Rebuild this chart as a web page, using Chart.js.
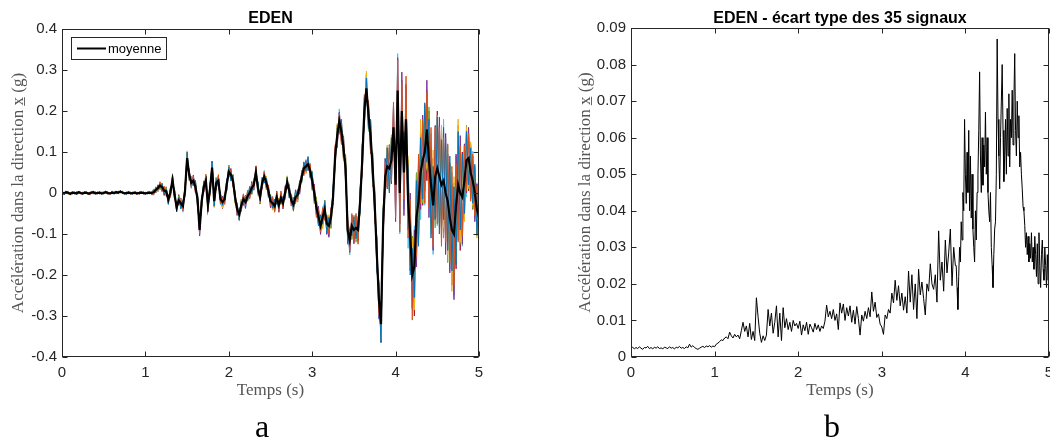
<!DOCTYPE html>
<html>
<head>
<meta charset="utf-8">
<script src="https://cdn.jsdelivr.net/npm/chart.js@4.4.0/dist/chart.umd.min.js"></script>
<style>
    html, body { margin: 0; padding: 0; background: #fff; }
    #wrap { position: relative; width: 1050px; height: 442px; overflow: hidden; }
    .panel { position: absolute; top: 0; width: 525px; height: 442px; }
</style>
</head>
<body>
<div id="wrap">
    <div class="panel" style="left:0"><canvas id="chart-a" width="525" height="442"></canvas></div>
    <div class="panel" style="left:525px"><canvas id="chart-b" width="525" height="442"></canvas></div>
</div>
<script>
// --- data ---
const xTicks = [0, 1, 2, 3, 4, 5];
const yTicksA = [-0.4, -0.3, -0.2, -0.1, 0, 0.1, 0.2, 0.3, 0.4];
const yTicksB = [0, 0.01, 0.02, 0.03, 0.04, 0.05, 0.06, 0.07, 0.08, 0.09];

// mean signal (g), one value every 0.025 s from 0 to 5 s
const dtMean = 0.025;
const moyenne = [
    0.001, -0.001, 0.002, 0, -0.002, 0.001, 0, -0.001, 0.002, 0, -0.001, 0.001, 0, -0.002, 0.001, 0.002, -0.001, 0, 0.001, -0.001,
    0, 0.002, 0, -0.001, 0.001, 0, 0.002, 0.001, 0.003, 0.001, -0.001, 0, 0.001, -0.001, 0, 0.001, -0.001, 0, 0.001, 0,
    -0.001, 0, 0.001, 0, 0.002, 0.008, 0.012, 0.018, 0.014, 0.006, 0.004, -0.016, 0.002, 0.032, -0.005, -0.035, -0.018, -0.025, -0.032, 0.005,
    0.085, 0.045, 0.025, 0.030, 0.015, -0.015, -0.090, -0.020, 0.015, 0.030, -0.030, 0.010, 0.062, -0.020, 0.025, 0.030, -0.015, -0.022, -0.015, 0.020,
    0.052, 0.045, 0.030, -0.010, -0.040, -0.052, -0.030, -0.015, -0.022, -0.008, 0, 0.012, 0.020, 0.050, 0.010, -0.010, 0.025, 0.040, 0.025, 0.005,
    -0.020, -0.025, -0.032, -0.010, -0.030, -0.012, -0.025, 0, 0.026, 0.005, -0.018, -0.028, -0.010, -0.005, 0.015, 0.040, 0.060, 0.065, 0.070, 0.055,
    0.030, 0, -0.035, -0.058, -0.080, -0.060, -0.040, -0.075, -0.080, -0.060, -0.010, 0.090, 0.140, 0.175, 0.150, 0.110, 0.060, -0.090, -0.115, -0.080,
    -0.090, -0.085, -0.090, -0.020, 0.080, 0.200, 0.255, 0.190, 0.140, 0.060, -0.030, -0.150, -0.260, -0.320, -0.080, 0.040, 0.065, 0.060, 0.080, 0.160,
    0.020, 0.250, 0, 0.200, 0.050, 0.180, -0.020, -0.100, -0.200, -0.180, -0.060, -0.020, 0.050, 0.080, 0.100, 0.155, 0.080, 0.020, -0.030, 0.040,
    0.060, 0.040, 0.020, 0.030, 0, -0.020, -0.060, -0.090, -0.100, -0.030, 0.020, 0, -0.010, 0.030, 0.080, 0.085, 0.050, 0.030, 0, -0.040,
    -0.060
];

// spread of individual signals around the mean (milli-g), same time grid
const ecart1 = [
    2, -3, 1, 4, -2, 0, 3, -4, 1, 2, -1, 3, -3, 2, 0, -2, 4, -1, 2, -3,
    1, 3, -2, 0, 4, -3, 2, -1, 3, -2, 1, -4, 2, 0, -3, 3, -1, 2, -2, 4,
    -1, 2, -3, 3, 5, -6, 8, -4, 10, -9, 6, -12, 9, -7, 11, -10, 8, -14, 12, -9,
    15, -11, 9, -13, 16, -18, 12, -10, 14, -15, 11, -9, 16, -12, 10, -14, 13, -8, 11, -15,
    12, -16, 14, -10, 17, -13, 9, -15, 12, -11, 16, -14, 10, -12, 18, -9, 13, -16, 11, -14,
    15, -12, 17, -18, 10, -14, 16, -11, 13, -17, 12, -15, 18, -10, 14, -13, 16, -12, 19, -15,
    20, -18, 14, -22, 25, -16, 19, -24, 21, -17, 26, -20, 18, -28, 30, -22, 25, -35, 28, -24,
    32, -27, 22, -30, 35, -38, 25, -33, 40, -28, 30, -42, 36, -45, 38, -30, 45, -60, 55, -48,
    70, -85, 60, -90, 95, -70, 80, -100, 65, -75, 90, -110, 85, -95, 120, -80, 100, -130, 95, -105,
    125, -140, 110, -95, 135, -120, 150, -100, 115, -145, 130, -90, 105, -80, 70, -65, 60, -55, 70, -60,
    50
];
const ecart2 = [
    -2, 1, 3, -1, -3, 2, 0, 4, -2, -1, 3, 0, -2, 4, -3, 1, -1, 3, -4, 2,
    0, -2, 3, -3, 1, 2, -4, 3, 0, -1, 2, -3, 4, -2, 1, -1, 3, -4, 2, 0,
    3, -2, 1, -4, -6, 7, -5, 9, -8, 11, -7, 10, -13, 8, -9, 12, -11, 9, -10, 14,
    -12, 13, -10, 11, -15, 14, -9, 13, -12, 16, -10, 12, -14, 9, -11, 15, -12, 10, -13, 12,
    -14, 11, -13, 15, -12, 10, -16, 13, -9, 14, -15, 12, -11, 16, -13, 10, -14, 12, -17, 13,
    -11, 16, -15, 12, -13, 17, -10, 14, -16, 12, -14, 11, -17, 15, -12, 16, -18, 13, -14, 17,
    -22, 17, -25, 19, -15, 23, -27, 18, -20, 24, -19, 28, -23, 20, -32, 26, -21, 34, -27, 30,
    -28, 33, -35, 27, -31, 40, -29, 36, -42, 32, -38, 44, -33, 40, -47, 36, -52, 58, -50, 62,
    -80, 75, -95, 70, -65, 105, -90, 85, -110, 70, -95, 115, -75, 100, -125, 90, -115, 140, -100, 120,
    -135, 120, -150, 105, -120, 140, -110, 155, -125, 100, -140, 115, -95, 85, -75, 60, -70, 65, -55, 58,
    -45
];
const ecart3 = [
    1, 2, -2, -3, 3, 1, -2, 2, -4, 1, 2, -2, 1, -3, 3, 2, -2, 0, 3, -1,
    -3, 2, 1, -2, -1, 3, -3, 4, -2, 2, -3, 1, -1, 3, -2, -3, 4, -2, 1, -2,
    2, -3, 4, -2, 7, -5, -8, 10, -6, 7, -11, 12, -8, 10, -12, 9, -13, 11, -9, 12,
    18, -14, 13, -9, 12, -16, 10, -12, 15, -11, 13, -16, 11, -13, 14, -10, 12, -15, 16, -11,
    15, -12, 11, -17, 13, -10, 14, -16, 11, -13, 12, -15, 17, -10, 11, -15, 14, -12, 16, -10,
    13, -17, 12, -16, 18, -11, 15, -12, 16, -14, 10, -17, 13, -15, 16, -12, 11, -18, 15, -13,
    18, -24, 20, -17, 23, -28, 16, -21, 27, -19, 22, -26, 30, -18, 24, -31, 28, -25, 33, -29,
    36, -30, 28, -36, 31, -34, 42, -27, 35, -40, 38, -33, 45, -40, 35, -48, 52, -45, 60, -55,
    85, -70, 100, -80, 75, -95, 110, -85, 90, -105, 75, -95, 130, -80, 105, -95, 85, -120, 135, -95,
    110, -125, 145, -115, 100, -130, 120, -150, 140, -110, 160, -120, 90, -100, 80, -70, 75, -60, 65, -70,
    60
];
const ecart4 = [
    -1, 3, -2, 2, 1, -3, 2, -1, 3, -2, -3, 1, 3, -1, 2, -4, 1, 2, -2, 3,
    2, -1, -3, 2, -2, 1, 3, -3, 2, 1, -2, 3, -3, 1, 2, -2, -3, 3, 1, -1,
    -2, 3, 2, -4, -5, 6, -9, 7, -10, 8, -12, 9, -11, 13, -8, 10, -12, 13, -11, 8,
    -14, 12, -11, 14, -13, 10, -15, 11, -13, 9, -16, 14, -10, 13, -15, 11, -9, 14, -12, 13,
    -10, 15, -13, 12, -14, 16, -11, 12, -15, 10, -13, 16, -12, 14, -10, 17, -15, 11, -12, 15,
    -16, 13, -11, 15, -17, 12, -14, 18, -10, 15, -13, 17, -12, 14, -18, 11, -15, 14, -16, 12,
    -19, 22, -17, 26, -21, 18, -24, 20, -28, 23, -18, 25, -30, 22, -26, 29, -33, 24, -30, 26,
    -34, 29, -26, 33, -38, 30, -35, 28, -44, 37, -32, 40, -46, 35, -40, 44, -55, 50, -58, 52,
    -90, 80, -75, 95, -105, 85, -70, 100, -80, 90, -120, 100, -90, 110, -95, 120, -140, 90, -110, 125,
    -120, 145, -105, 130, -150, 115, -135, 110, -160, 125, -100, 140, -115, 90, -80, 75, -65, 60, -70, 62,
    -55
];
const ecart5 = [
    3, -1, -2, 1, 2, -3, 1, 3, -2, -1, 2, -3, 1, 2, -1, 3, -2, 1, -3, 2,
    -2, 1, 3, -1, -3, 2, -1, 2, -3, 4, -1, -2, 3, -1, 2, -3, 2, -1, 3, -2,
    1, -2, -1, 2, 8, -7, 6, -10, 9, -8, 10, -9, 12, -10, 13, -8, 11, -12, 10, -13,
    13, -15, 12, -10, 13, -14, 16, -12, 11, -14, 12, -11, 13, -15, 12, -10, 16, -13, 14, -12,
    11, -13, 16, -14, 10, -12, 15, -13, 14, -11, 12, -16, 13, -11, 15, -12, 10, -14, 13, -16,
    17, -13, 14, -12, 15, -16, 11, -17, 14, -12, 16, -11, 14, -16, 13, -15, 12, -14, 17, -11,
    24, -20, 26, -19, 21, -25, 22, -18, 24, -27, 20, -23, 26, -32, 22, -28, 34, -26, 30, -34,
    30, -35, 33, -28, 40, -32, 38, -40, 30, -37, 44, -38, 40, -35, 50, -42, 48, -55, 62, -50,
    95, -75, 85, -105, 70, -90, 100, -75, 95, -85, 110, -90, 80, -105, 115, -100, 130, -110, 100, -125,
    130, -115, 120, -140, 110, -150, 135, -105, 125, -130, 145, -125, 100, -90, 85, -75, 70, -68, 62, -58,
    52
];
const ecart6 = [
    -3, 2, -1, -2, 3, 1, -3, 1, 2, -2, 1, 3, -1, -3, 2, -1, 3, -2, 1, -2,
    3, -2, 1, 2, -3, -1, 3, -2, -1, 3, -3, 2, 1, -2, 3, -1, 2, -3, -1, 2,
    -2, 1, 3, -3, -7, 5, -7, 8, -11, 9, -10, 8, -14, 11, -10, 13, -9, 10, -15, 11,
    -16, 10, -14, 12, -11, 15, -12, 14, -10, 12, -14, 10, -15, 13, -12, 11, -14, 12, -10, 16,
    -13, 12, -15, 11, -16, 14, -12, 10, -17, 15, -11, 13, -14, 12, -16, 11, -12, 15, -13, 11,
    -14, 17, -13, 11, -16, 15, -12, 13, -15, 18, -11, 16, -14, 12, -15, 14, -10, 17, -13, 16,
    -24, 19, -21, 23, -18, 27, -20, 22, -25, 18, -28, 21, -24, 30, -20, 33, -28, 22, -36, 27,
    -30, 36, -32, 38, -28, 35, -42, 31, -36, 41, -34, 38, -48, 42, -38, 45, -50, 58, -52, 55,
    -75, 90, -100, 75, -90, 80, -115, 95, -85, 100, -90, 80, -115, 90, -130, 95, -105, 125, -120, 110,
    -140, 125, -130, 150, -100, 135, -125, 140, -150, 120, -135, 105, -120, 85, -90, 70, -62, 72, -60, 65,
    -62
];
const ecart7 = [
    2, -2, 3, -1, 0, 2, -3, 3, -1, -2, 3, -1, 2, -2, -3, 2, 1, -3, 2, 1,
    -1, 2, -3, 3, -2, 2, -1, -3, 3, -1, 2, -2, -1, 3, -3, 1, 2, -2, 3, -3,
    1, -1, 2, -3, 6, -8, 7, -9, 8, -12, 11, -10, 9, -13, 12, -11, 14, -10, 13, -11,
    11, -13, 15, -12, 14, -11, 13, -15, 12, -10, 14, -13, 15, -11, 13, -12, 11, -16, 12, -14,
    16, -11, 12, -14, 11, -15, 13, -11, 16, -12, 14, -10, 15, -13, 12, -17, 11, -13, 15, -12,
    12, -15, 16, -13, 12, -11, 17, -14, 12, -16, 15, -13, 11, -17, 16, -11, 14, -16, 12, -18,
    21, -25, 18, -21, 27, -19, 23, -26, 18, -24, 21, -30, 25, -22, 28, -25, 31, -29, 24, -31,
    35, -31, 30, -26, 34, -37, 32, -30, 38, -43, 36, -30, 42, -44, 36, -40, 47, -52, 50, -60,
    80, -95, 70, -85, 100, -75, 95, -90, 80, -120, 105, -85, 95, -110, 100, -125, 120, -95, 115, -100,
    140, -110, 130, -125, 145, -105, 130, -135, 110, -155, 120, -140, 110, -95, 75, -80, 65, -70, 58, -65,
    48
];
const signalEcarts = [ecart1, ecart2, ecart3, ecart4, ecart5, ecart6, ecart7];
const signalColors = ['#0072BD', '#D95319', '#EDB120', '#7E2F8E', '#77AC30', '#4DBEEE', '#A2142F'];

// standard deviation of the 35 signals (g)
// 0 .. 3.88 s, one value every 0.02 s
const dtStdDebut = 0.02;
const ecartTypeDebut = [
    0.0024, 0.0027, 0.0022, 0.0026, 0.0023, 0.0028, 0.0024, 0.0021, 0.0026, 0.0025,
    0.0029, 0.0023, 0.0026, 0.0022, 0.0027, 0.0024, 0.0028, 0.0023, 0.0025, 0.0022,
    0.0027, 0.0025, 0.0023, 0.0028, 0.0024, 0.0026, 0.0022, 0.0027, 0.0025, 0.0029,
    0.0024, 0.0026, 0.0023, 0.0028, 0.0025, 0.0035, 0.0027, 0.0031, 0.0026, 0.0023,
    0.0021, 0.0024, 0.0027, 0.0029, 0.0026, 0.0030, 0.0028, 0.0031, 0.0027, 0.0030,
    0.0028, 0.0035, 0.0038, 0.0042, 0.0047, 0.0045, 0.0052, 0.0055, 0.0050, 0.0068,
    0.0058, 0.0052, 0.0062, 0.0055, 0.0060, 0.0050, 0.0072, 0.0095, 0.0070, 0.0085,
    0.0055, 0.0092, 0.0048, 0.0070, 0.0045, 0.0162, 0.0110, 0.0065, 0.0040, 0.0058,
    0.0045, 0.0060, 0.0130, 0.0085, 0.0120, 0.0065, 0.0095, 0.0140, 0.0055, 0.0120,
    0.0045, 0.0135, 0.0080, 0.0105, 0.0075, 0.0095, 0.0070, 0.0100, 0.0085, 0.0092,
    0.0078, 0.0098, 0.0060, 0.0088, 0.0072, 0.0095, 0.0062, 0.0090, 0.0080, 0.0068,
    0.0092, 0.0075, 0.0088, 0.0070, 0.0085, 0.0078, 0.0098, 0.0142, 0.0110, 0.0125,
    0.0105, 0.0130, 0.0100, 0.0118, 0.0075, 0.0148, 0.0120, 0.0145, 0.0100, 0.0135,
    0.0112, 0.0140, 0.0095, 0.0128, 0.0090, 0.0138, 0.0105, 0.0060, 0.0115, 0.0098,
    0.0125, 0.0105, 0.0135, 0.0110, 0.0178, 0.0125, 0.0150, 0.0108, 0.0118, 0.0090,
    0.0082, 0.0062, 0.0115, 0.0105, 0.0130, 0.0120, 0.0175, 0.0148, 0.0210, 0.0155,
    0.0195, 0.0140, 0.0175, 0.0128, 0.0165, 0.0120, 0.0235, 0.0150, 0.0225, 0.0130,
    0.0200, 0.0105, 0.0240, 0.0170, 0.0205, 0.0160, 0.0115, 0.0200, 0.0180, 0.0255,
    0.0200, 0.0185, 0.0225, 0.0150, 0.0345, 0.0210, 0.0260, 0.0180, 0.0320, 0.0230,
    0.0285, 0.0350, 0.0195, 0.0300, 0.0250
];
// 3.89 .. 5.00 s, one value every 0.01 s
const t0StdFin = 3.89;
const dtStdFin = 0.01;
const ecartTypeFin = [
    0.025, 0.019, 0.013, 0.022, 0.030, 0.026, 0.037, 0.032, 0.045, 0.040, 0.065,
    0.050, 0.042, 0.056, 0.045, 0.062, 0.040, 0.055, 0.038, 0.050, 0.035,
    0.030, 0.026, 0.040, 0.032, 0.045, 0.050, 0.062, 0.078, 0.055, 0.045,
    0.060, 0.047, 0.058, 0.052, 0.067, 0.050, 0.060, 0.045, 0.040, 0.037,
    0.045, 0.030, 0.025, 0.019, 0.028, 0.035, 0.037, 0.050, 0.087, 0.065,
    0.055, 0.046, 0.060, 0.070, 0.080, 0.062, 0.048, 0.055, 0.065, 0.050,
    0.068, 0.055, 0.072, 0.052, 0.065, 0.060, 0.073, 0.058, 0.070, 0.083,
    0.062, 0.055, 0.070, 0.060, 0.066, 0.052, 0.056, 0.050, 0.046, 0.041,
    0.040, 0.036, 0.030, 0.034, 0.028, 0.033, 0.026, 0.031, 0.027, 0.034,
    0.026, 0.030, 0.024, 0.033, 0.028, 0.022, 0.031, 0.020, 0.034, 0.025,
    0.019, 0.028, 0.032, 0.024, 0.021, 0.030, 0.025, 0.019, 0.028, 0.021,
    0.025
];

// --- helpers ---
const timeOf = (i, dt, t0 = 0) => Math.round((t0 + i * dt) * 1000) / 1000;
const toPoints = (arr, dt, t0 = 0) => arr.map((v, i) => ({ x: timeOf(i, dt, t0), y: v }));

Chart.defaults.font.family = '"Liberation Sans", Arial, sans-serif';
Chart.defaults.font.size = 15;
Chart.defaults.color = '#262626';

// MATLAB-like frame: box, inward ticks, title, panel letter, legend
const matlabAxes = {
    id: 'matlabAxes',
    afterDraw(chart, args, opts) {
        const { ctx, chartArea: a, scales } = chart;
        const l = Math.round(a.left) + 0.5;
        const r = Math.round(a.right) - 0.5;
        const t = Math.round(a.top) + 0.5;
        const b = Math.round(a.bottom) - 0.5;
        ctx.save();
        ctx.strokeStyle = '#262626';
        ctx.lineWidth = 1;
        ctx.strokeRect(l, t, r - l, b - t);
        ctx.beginPath();
        scales.x.ticks.forEach(tk => {
            const px = Math.round(scales.x.getPixelForValue(tk.value)) + 0.5;
            ctx.moveTo(px, b); ctx.lineTo(px, b - 5);
            ctx.moveTo(px, t); ctx.lineTo(px, t + 5);
        });
        scales.y.ticks.forEach(tk => {
            const py = Math.round(scales.y.getPixelForValue(tk.value)) + 0.5;
            ctx.moveTo(l, py); ctx.lineTo(l + 5, py);
            ctx.moveTo(r, py); ctx.lineTo(r - 5, py);
        });
        ctx.stroke();

        ctx.fillStyle = '#000';
        ctx.textAlign = 'center';
        ctx.textBaseline = 'alphabetic';
        ctx.font = 'bold 16px "Liberation Sans", Arial, sans-serif';
        ctx.fillText(opts.title, (a.left + a.right) / 2, 23);

        ctx.font = '32px "Liberation Serif", "Times New Roman", serif';
        ctx.fillText(opts.letter, opts.letterX, 437);

        if (opts.legend) {
            const ds = chart.data.datasets[0];
            ctx.fillStyle = '#fff';
            ctx.fillRect(71, 37, 95, 22);
            ctx.strokeStyle = '#262626';
            ctx.strokeRect(71.5, 37.5, 95, 22);
            ctx.beginPath();
            ctx.strokeStyle = ds.borderColor;
            ctx.lineWidth = 2;
            ctx.moveTo(77, 48.5); ctx.lineTo(106, 48.5);
            ctx.stroke();
            ctx.fillStyle = '#000';
            ctx.textAlign = 'left';
            ctx.textBaseline = 'middle';
            ctx.font = '13px "Liberation Sans", Arial, sans-serif';
            ctx.fillText(ds.label, 108, 49);
        }
        ctx.restore();
    }
};

function makeOptions(cfg) {
    return {
        responsive: false,
        animation: false,
        events: [],
        layout: { padding: { left: 0, right: cfg.padRight, top: cfg.padTop, bottom: 35 } },
        elements: { point: { radius: 0 }, line: { tension: 0 } },
        plugins: {
            legend: { display: false },
            tooltip: { enabled: false },
            matlabAxes: { title: cfg.title, letter: cfg.letter, letterX: cfg.letterX, legend: cfg.legend }
        },
        scales: {
            x: {
                type: 'linear',
                min: 0,
                max: 5,
                grid: { display: false, drawTicks: false },
                border: { display: false },
                afterBuildTicks: s => { s.ticks = xTicks.map(v => ({ value: v })); },
                afterFit: s => { s.height = 50; s.paddingLeft = 0; s.paddingRight = 0; },
                ticks: { padding: 7, maxRotation: 0, autoSkip: false, callback: v => String(v) },
                title: {
                    display: true,
                    text: 'Temps (s)',
                    color: '#555',
                    font: { family: '"Liberation Serif", "Times New Roman", serif', size: 17 },
                    padding: { top: 0, bottom: 6 }
                }
            },
            y: {
                type: 'linear',
                min: cfg.yMin,
                max: cfg.yMax,
                grid: { display: false, drawTicks: false },
                border: { display: false },
                afterBuildTicks: s => { s.ticks = cfg.yTicks.map(v => ({ value: v })); },
                afterFit: s => { s.width = cfg.yWidth; s.paddingTop = 0; s.paddingBottom = 0; },
                ticks: { padding: 5, autoSkip: false, callback: v => String(+v.toFixed(3)) },
                title: {
                    display: true,
                    text: 'Accélération dans la direction x\u0332 (g)',
                    color: '#555',
                    font: { family: '"Liberation Serif", "Times New Roman", serif', size: 17 },
                    padding: { top: cfg.yTitlePad, bottom: 0 }
                }
            }
        }
    };
}

// --- left panel: the individual signals (drawn from their spread) and their mean ---
const signalSets = signalEcarts.map((ec, k) => ({
    label: 'signal ' + (k + 1),
    data: moyenne.map((m, i) => ({ x: timeOf(i, dtMean), y: m + ec[i] / 1000 })),
    borderColor: signalColors[k],
    borderWidth: 1,
    order: 1
}));

new Chart(document.getElementById('chart-a'), {
    type: 'line',
    data: {
        datasets: [{
            label: 'moyenne',
            data: toPoints(moyenne, dtMean),
            borderColor: '#000',
            borderWidth: 2.2,
            order: 0
        }, ...signalSets]
    },
    options: makeOptions({
        padRight: 46, padTop: 29, yWidth: 62, yTitlePad: 8,
        yMin: -0.4, yMax: 0.4, yTicks: yTicksA,
        title: 'EDEN', letter: 'a', letterX: 262, legend: true
    }),
    plugins: [matlabAxes]
});

// --- right panel: standard deviation ---
new Chart(document.getElementById('chart-b'), {
    type: 'line',
    data: {
        datasets: [{
            label: 'écart type',
            data: toPoints(ecartTypeDebut, dtStdDebut).concat(toPoints(ecartTypeFin, dtStdFin, t0StdFin)),
            borderColor: '#000',
            borderWidth: 1
        }]
    },
    options: makeOptions({
        padRight: 1, padTop: 28, yWidth: 106, yTitlePad: 50,
        yMin: 0, yMax: 0.09, yTicks: yTicksB,
        title: 'EDEN - écart type des 35 signaux', letter: 'b', letterX: 307, legend: false
    }),
    plugins: [matlabAxes]
});
</script>
</body>
</html>
